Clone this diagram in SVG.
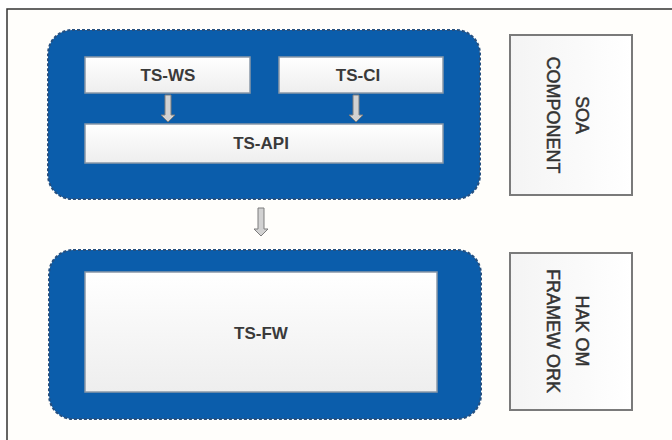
<svg xmlns="http://www.w3.org/2000/svg" width="672" height="440" viewBox="0 0 672 440">
  <defs>
    <linearGradient id="boxg" x1="0" y1="0" x2="0" y2="1">
      <stop offset="0" stop-color="#ffffff"/>
      <stop offset="1" stop-color="#eeeeee"/>
    </linearGradient>
    <linearGradient id="sideg" x1="0" y1="0" x2="1" y2="0">
      <stop offset="0" stop-color="#f4f4f4"/>
      <stop offset="1" stop-color="#ffffff"/>
    </linearGradient>
  </defs>
  <style>
    .frame { fill: #fffefb; stroke: #333333; stroke-width: 1.5; }
    .cont { fill: #0b5dab; stroke: #27507f; stroke-width: 2; stroke-dasharray: 3 2; }
    .inner { fill: url(#boxg); stroke: #8a98a8; stroke-width: 1.5; }
    .side { fill: url(#sideg); stroke: #7a7a7a; stroke-width: 2; }
    .lbl { font-family: "Liberation Sans", Arial, sans-serif; font-size: 17px; font-weight: bold; fill: #3a3a3a; text-anchor: middle; }
    .vlbl { font-family: "Liberation Sans", Arial, sans-serif; font-size: 18px; fill: #333333; stroke: #333333; stroke-width: 0.5; text-anchor: middle; }
    .arrow { fill: #d2d2d2; stroke: #7c7c7c; stroke-width: 1; }
  </style>
  <rect class="frame" x="7" y="9" width="670" height="440"/>

  <g id="soa-container">
    <rect class="cont" x="48" y="30" width="432" height="169" rx="24" ry="24"/>
  </g>
  <g id="ts-ws">
    <rect class="inner" x="85" y="57" width="165" height="36"/>
    <text class="lbl" x="168" y="81">TS-WS</text>
  </g>
  <g id="ts-ci">
    <rect class="inner" x="279" y="57" width="164" height="36"/>
    <text class="lbl" x="358" y="81">TS-CI</text>
  </g>
  <g id="ts-api">
    <rect class="inner" x="85" y="124" width="358" height="39"/>
    <text class="lbl" x="261" y="149">TS-API</text>
  </g>

  <g id="fw-container">
    <rect class="cont" x="49" y="250" width="432" height="169" rx="24" ry="24"/>
  </g>
  <g id="ts-fw">
    <rect class="inner" x="85" y="272" width="352" height="120"/>
    <text class="lbl" x="261" y="339">TS-FW</text>
  </g>

  <g id="soa-component">
    <rect class="side" x="510" y="35" width="122" height="160"/>
    <text class="vlbl" transform="translate(576,115) rotate(90)" x="0" y="0">SOA</text>
    <text class="vlbl" transform="translate(547,115) rotate(90)" x="0" y="0">COMPONENT</text>
  </g>
  <g id="hakom-framework">
    <rect class="side" x="510" y="253" width="122" height="157"/>
    <text class="vlbl" transform="translate(576,331) rotate(90)" x="0" y="0">HAK OM</text>
    <text class="vlbl" transform="translate(547,331) rotate(90)" x="0" y="0">FRAMEW ORK</text>
  </g>

  <g id="connectors">
    <path class="arrow" d="M165,95 h6 v20 h4 l-7,7 l-7,-7 h4 z"/>
    <path class="arrow" d="M353,95 h6 v20 h4 l-7,7 l-7,-7 h4 z"/>
    <path class="arrow" d="M258,208 h6 v21 h4 l-7,7 l-7,-7 h4 z"/>
  </g>
</svg>
